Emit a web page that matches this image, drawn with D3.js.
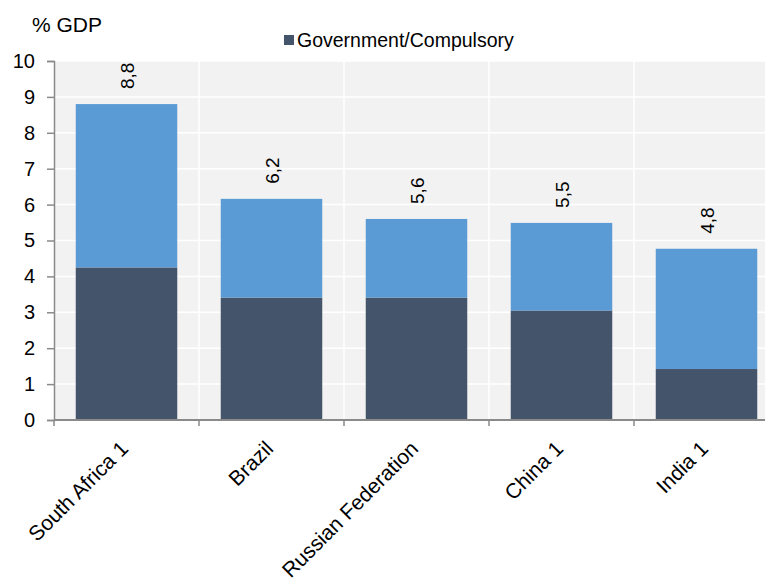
<!DOCTYPE html>
<html>
<head>
<meta charset="utf-8">
<script src="https://cdn.jsdelivr.net/npm/d3@7"></script>
<style>
  body { margin: 0; background: #fff; }
  text { font-family: "Liberation Sans", Arial, sans-serif; fill: #000; }
</style>
</head>
<body>
<div id="chart"></div>
<script>
const svgWidth = 765
const svgHeight = 583

// data
const countries = ["South Africa 1", "Brazil", "Russian Federation", "China 1", "India 1"]
const govValues = [4.25, 3.41, 3.41, 3.05, 1.42]
const otherValues = [4.55, 2.75, 2.19, 2.44, 3.35]
const yTicks = [0, 1, 2, 3, 4, 5, 6, 7, 8, 9, 10]

let margin = { top: 61, left: 54 }
let width = 725
let height = 359

let svg = d3.select("#chart")
  .append("svg")
  .attr("width", svgWidth)
  .attr("height", svgHeight)

let chartGroup = svg.append("g")
  .attr("transform", `translate(${margin.left}, ${margin.top})`)

let x = d3.scaleBand()
  .domain(countries)
  .range([0, width])
  .paddingInner(0.3)
  .paddingOuter(0.15)

let y = d3.scaleLinear()
  .domain([0, 10])
  .range([height, 0])

// plot background
chartGroup.append("rect")
  .attr("width", width)
  .attr("height", height)
  .attr("fill", "#f2f2f2")

// gridlines
chartGroup.selectAll(".hgrid")
  .data(yTicks.slice(1))
  .enter()
  .append("line")
  .attr("x1", 0)
  .attr("x2", width)
  .attr("y1", d => y(d))
  .attr("y2", d => y(d))
  .attr("stroke", "#fff")
  .attr("stroke-width", 1.5)

let step = x.step()
let boundaries = countries.slice(0, -1).map(c => x(c) + x.bandwidth() + (step - x.bandwidth()) / 2)

chartGroup.selectAll(".vgrid")
  .data(boundaries)
  .enter()
  .append("line")
  .attr("x1", d => d)
  .attr("x2", d => d)
  .attr("y1", 0)
  .attr("y2", height)
  .attr("stroke", "#fff")
  .attr("stroke-width", 1.5)

// stacked bars
let rows = countries.map((c, i) => ({ country: c, gov: govValues[i], other: otherValues[i] }))
let stack = d3.stack().keys(["gov", "other"])(rows)
let colors = { gov: "#44546a", other: "#5b9bd5" }

chartGroup.selectAll(".series")
  .data(stack)
  .enter()
  .append("g")
  .attr("fill", d => colors[d.key])
  .selectAll("rect")
  .data(d => d)
  .enter()
  .append("rect")
  .attr("x", d => x(d.data.country))
  .attr("y", d => y(d[1]))
  .attr("width", x.bandwidth())
  .attr("height", d => y(d[0]) - y(d[1]))

// value labels
chartGroup.selectAll(".val")
  .data(rows)
  .enter()
  .append("text")
  .attr("transform", d => `translate(${x(d.country) + x.bandwidth() / 2 + 7}, ${y(d.gov + d.other) - 15}) rotate(-90)`)
  .attr("font-size", "19px")
  .text(d => d3.format(".1f")(d.gov + d.other).replace(".", ","))

// y axis
let yAxis = chartGroup.append("g")
  .call(d3.axisLeft(y).tickValues(yTicks).tickSize(7).tickPadding(12))
yAxis.select(".domain").attr("stroke", "#8a8a8a").attr("stroke-width", 1.5)
yAxis.selectAll(".tick line").attr("stroke", "#8a8a8a").attr("stroke-width", 1.5)
yAxis.selectAll(".tick text").attr("font-size", "20px").attr("font-family", "Liberation Sans, Arial, sans-serif")

// x axis
chartGroup.append("line")
  .attr("x1", 0)
  .attr("x2", width)
  .attr("y1", height)
  .attr("y2", height)
  .attr("stroke", "#8a8a8a")
  .attr("stroke-width", 2)

chartGroup.selectAll(".xtick")
  .data([0].concat(boundaries))
  .enter()
  .append("line")
  .attr("x1", d => d)
  .attr("x2", d => d)
  .attr("y1", height)
  .attr("y2", height + 6)
  .attr("stroke", "#8a8a8a")
  .attr("stroke-width", 1.5)

chartGroup.selectAll(".xlabel")
  .data(countries)
  .enter()
  .append("text")
  .attr("transform", d => `translate(${x(d) + x.bandwidth() / 2 + 3}, ${height + 30}) rotate(-45)`)
  .attr("text-anchor", "end")
  .attr("font-size", "21px")
  .text(d => d)

// axis title
svg.append("text")
  .attr("x", 32)
  .attr("y", 32)
  .attr("font-size", "21px")
  .text("% GDP")

// legend
svg.append("rect")
  .attr("x", 284)
  .attr("y", 35)
  .attr("width", 10)
  .attr("height", 10)
  .attr("fill", colors.gov)

svg.append("text")
  .attr("x", 297)
  .attr("y", 47)
  .attr("font-size", "19.5px")
  .text("Government/Compulsory")
</script>
</body>
</html>
